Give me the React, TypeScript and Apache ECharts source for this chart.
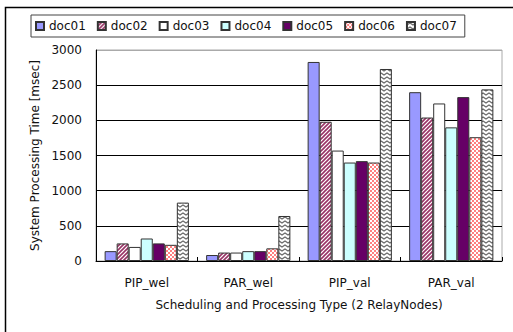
import React, { useEffect, useRef } from "react";
import * as echarts from "echarts";

const categories = ["PIP_wel", "PAR_wel", "PIP_val", "PAR_val"];
const seriesNames = ["doc01", "doc02", "doc03", "doc04", "doc05", "doc06", "doc07"];
const doc01 = [140, 85, 2830, 2400];
const doc02 = [250, 120, 1980, 2040];
const doc03 = [200, 120, 1570, 2240];
const doc04 = [320, 140, 1400, 1900];
const doc05 = [250, 140, 1420, 2330];
const doc06 = [230, 180, 1400, 1760];
const doc07 = [830, 640, 2730, 2440];
const seriesValues = [doc01, doc02, doc03, doc04, doc05, doc06, doc07];
const yTicks = { min: 0, max: 3000, interval: 500 };

const FONT = "DejaVu Sans";

function tile(w: number, h: number, draw: (ctx: CanvasRenderingContext2D) => void) {
  const c = document.createElement("canvas");
  c.width = w;
  c.height = h;
  const ctx = c.getContext("2d")!;
  ctx.fillStyle = "#ffffff";
  ctx.fillRect(0, 0, w, h);
  draw(ctx);
  return { image: c, repeat: "repeat", imageWidth: w, imageHeight: h } as any;
}

function makeFills() {
  // diagonal purple hatching
  const stripes = tile(4, 4, (ctx) => {
    ctx.strokeStyle = "#993366";
    ctx.lineWidth = 1.6;
    ctx.beginPath();
    ctx.moveTo(-1, 5);
    ctx.lineTo(5, -1);
    ctx.moveTo(-3, 3);
    ctx.lineTo(3, -3);
    ctx.moveTo(1, 7);
    ctx.lineTo(7, 1);
    ctx.stroke();
  });
  // pink dots
  const dots = tile(4, 4, (ctx) => {
    ctx.fillStyle = "#ff8080";
    ctx.fillRect(0, 0, 2, 2);
    ctx.fillRect(2, 2, 2, 2);
  });
  // grey zigzag
  const zigzag = tile(6, 4, (ctx) => {
    ctx.strokeStyle = "#6a6a6a";
    ctx.lineWidth = 1.2;
    ctx.beginPath();
    ctx.moveTo(-3, 1);
    ctx.lineTo(0, 3);
    ctx.lineTo(3, 1);
    ctx.lineTo(6, 3);
    ctx.lineTo(9, 1);
    ctx.stroke();
  });
  return ["#9999ff", stripes, "#ffffff", "#ccffff", "#660066", dots, zigzag];
}

export default function App() {
  const ref = useRef<HTMLDivElement>(null);

  useEffect(() => {
    document.body.style.margin = "0";
    const chart = echarts.init(ref.current!, null, { renderer: "svg" });
    const fills = makeFills();

    const series = seriesNames.map((name, i) => ({
      name,
      type: "bar",
      data: seriesValues[i],
      barGap: "0%",
      barCategoryGap: "17%",
      itemStyle: {
        color: fills[i],
        borderColor: "#333333",
        borderWidth: 1,
      },
    }));

    chart.setOption({
      animation: false,
      backgroundColor: "#ffffff",
      textStyle: { fontFamily: FONT },
      graphic: [
        {
          type: "rect",
          silent: true,
          z: -10,
          shape: { x: 5.5, y: 7.5, width: 600, height: 400 },
          style: { fill: "none", stroke: "#000000", lineWidth: 1.5 },
        },
      ],
      legend: {
        left: 31,
        top: 15,
        orient: "horizontal",
        padding: [5, 8, 5, 4],
        itemGap: 11,
        itemWidth: 8,
        itemHeight: 8,
        icon: "rect",
        borderColor: "#444444",
        borderWidth: 1,
        textStyle: { fontFamily: FONT, fontSize: 12, color: "#111111" },
        data: seriesNames,
      },
      grid: {
        left: 96,
        top: 50,
        right: 11,
        bottom: 71,
        show: true,
        borderColor: "#aaaaaa",
        borderWidth: 1,
      },
      xAxis: {
        type: "category",
        data: categories,
        name: "Scheduling and Processing Type (2 RelayNodes)",
        nameLocation: "middle",
        nameGap: 38,
        nameTextStyle: { fontFamily: FONT, fontSize: 12, color: "#111111", verticalAlign: "top" },
        axisLine: { lineStyle: { color: "#000000", width: 1 } },
        axisTick: { show: true, inside: true, length: 4, alignWithLabel: false, lineStyle: { color: "#000000" } },
        axisLabel: { fontFamily: FONT, fontSize: 12, color: "#111111", margin: 16 },
      },
      yAxis: {
        type: "value",
        min: yTicks.min,
        max: yTicks.max,
        interval: yTicks.interval,
        name: "System Processing Time [msec]",
        nameLocation: "middle",
        nameGap: 51,
        nameTextStyle: { fontFamily: FONT, fontSize: 12, color: "#111111" },
        axisLine: { show: true, lineStyle: { color: "#000000", width: 1 } },
        axisTick: { show: false },
        axisLabel: {
          fontFamily: FONT,
          fontSize: 12,
          color: "#111111",
          margin: 14,
          formatter: (v: number) => String(v),
        },
        splitLine: {
          show: true,
          lineStyle: {
            color: ["#000000", "#000000", "#000000", "#000000", "#000000", "#000000", "#aaaaaa"],
            width: 1,
          },
        },
      },
      series,
    } as any);

    return () => chart.dispose();
  }, []);

  return <div ref={ref} style={{ width: 513, height: 332 }} />;
}
